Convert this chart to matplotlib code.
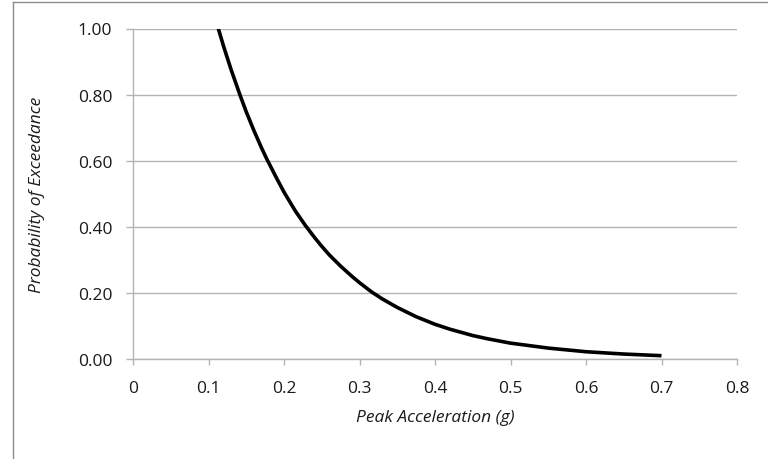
import matplotlib
matplotlib.use('Agg')
import matplotlib.pyplot as plt
from matplotlib.lines import Line2D

plt.rcParams['font.family'] = ['Open Sans', 'DejaVu Sans']

# values
accel = [0.113, 0.12, 0.13, 0.142, 0.15, 0.16, 0.17, 0.177, 0.19, 0.2, 0.215, 0.228,
         0.24, 0.25, 0.26, 0.275, 0.29, 0.3, 0.316, 0.33, 0.35, 0.375, 0.4, 0.42,
         0.45, 0.47, 0.5, 0.55, 0.6, 0.65, 0.7]
prob = [1.00, 0.946, 0.875, 0.797, 0.748, 0.692, 0.640, 0.606, 0.548, 0.505, 0.448, 0.405,
        0.369, 0.341, 0.315, 0.281, 0.250, 0.231, 0.203, 0.182, 0.156, 0.128, 0.105, 0.090,
        0.071, 0.061, 0.048, 0.033, 0.022, 0.015, 0.010]

x_ticks = [0, 0.1, 0.2, 0.3, 0.4, 0.5, 0.6, 0.7, 0.8]
x_labels = ['0', '0.1', '0.2', '0.3', '0.4', '0.5', '0.6', '0.7', '0.8']
y_ticks = [0.0, 0.2, 0.4, 0.6, 0.8, 1.0]
y_labels = ['0.00', '0.20', '0.40', '0.60', '0.80', '1.00']

fig = plt.figure(figsize=(7.68, 4.6), dpi=100)
ax = fig.add_axes([133 / 768, 1 - 360 / 460, 604 / 768, 330.5 / 460])

grey = '#b3b3b3'
ax.plot(accel, prob, color='black', linewidth=2.6, solid_capstyle='butt',
        solid_joinstyle='round', zorder=3)

ax.set_xlim(0, 0.8)
ax.set_ylim(0, 1.0)
ax.set_xticks(x_ticks)
ax.set_xticklabels(x_labels)
ax.set_yticks(y_ticks)
ax.set_yticklabels(y_labels)
ax.yaxis.grid(True, color=grey, linewidth=1.0)
ax.set_axisbelow(True)

for side in ['top', 'right']:
    ax.spines[side].set_visible(False)
for side in ['left', 'bottom']:
    ax.spines[side].set_color(grey)
    ax.spines[side].set_linewidth(1.0)

ax.tick_params(axis='y', direction='out', length=5, width=1.0, color=grey,
               labelsize=12.5, labelcolor='#1a1a1a', pad=10)
ax.tick_params(axis='x', direction='out', length=4, width=1.0, color=grey,
               labelsize=12.5, labelcolor='#1a1a1a', pad=11)

ax.set_xlabel('Peak Acceleration (g)', fontsize=12.5, style='italic', color='#1a1a1a')
ax.set_ylabel('Probability of Exceedance', fontsize=12.5, style='italic', color='#1a1a1a')
ax.xaxis.set_label_coords(0.5, -0.152)
ax.yaxis.set_label_coords(-0.145, 0.5)

# chart border (Excel-style frame)
fig.add_artist(Line2D([12.5 / 768, 12.5 / 768], [0, 1 - 2.5 / 460],
                      transform=fig.transFigure, color='#8c8c8c', linewidth=1.0))
fig.add_artist(Line2D([12.5 / 768, 1], [1 - 2.5 / 460, 1 - 2.5 / 460],
                      transform=fig.transFigure, color='#8c8c8c', linewidth=1.0))

fig.savefig('out.png', dpi=100)
